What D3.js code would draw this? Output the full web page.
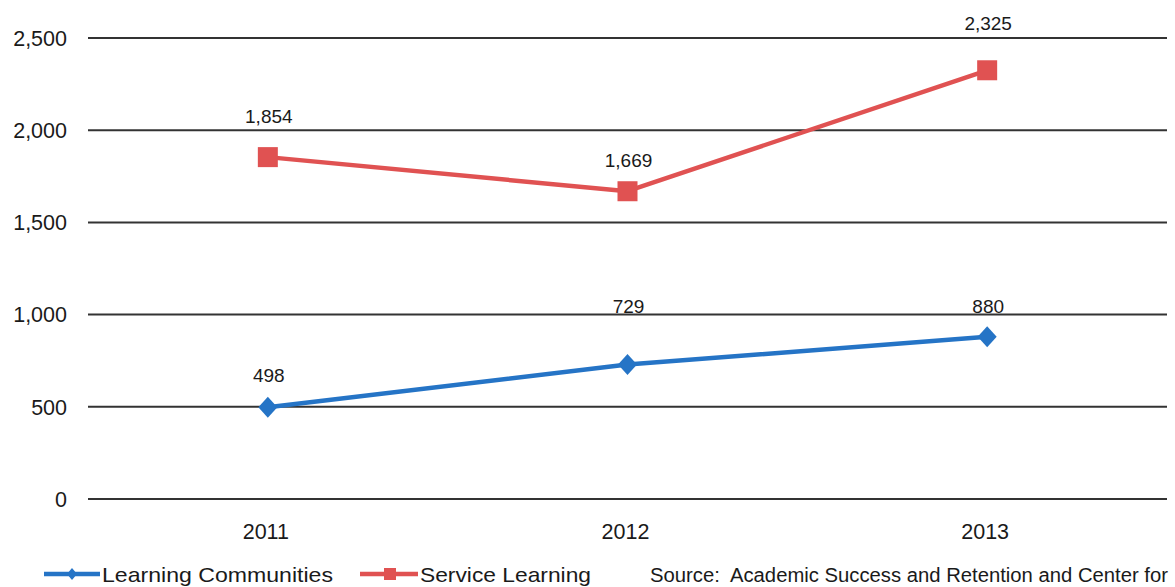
<!DOCTYPE html>
<html><head><meta charset="utf-8">
<script src="https://cdn.jsdelivr.net/npm/d3@7"></script>
<style>
html,body{margin:0;padding:0;background:#fff;}
svg{display:block;font-family:"Liberation Sans",Arial,sans-serif;}
</style></head><body>
<svg id="c" width="1175" height="587"></svg>
<script>
const years = ["2011","2012","2013"];
const learningCommunities = [498, 729, 880];
const serviceLearning = [1854, 1669, 2325];
const yTicks = [0, 500, 1000, 1500, 2000, 2500];
const seriesNames = ["Learning Communities", "Service Learning"];
const sourceText = "Source:  Academic Success and Retention and Center for";
// label vertical offsets (style), px above point
const lcLabelOffsets = [25, 52, 24];
const slLabelOffsets = [34, 24, 40];

const svg = d3.select("#c");
const x = d3.scalePoint().domain(years).range([88, 1167]).padding(0.5);
const y = d3.scaleLinear().domain([0, 2500]).range([499, 38]);
const fmt = d3.format(",");

// gridlines
svg.append("g").selectAll("line").data(yTicks).join("line")
  .attr("x1", 88).attr("x2", 1167)
  .attr("y1", d => y(d)).attr("y2", d => y(d))
  .attr("stroke", "#333").attr("stroke-width", 2);

// y labels
svg.append("g").selectAll("text").data(yTicks).join("text")
  .attr("x", 67).attr("y", d => y(d)).attr("dy", "0.36em")
  .attr("text-anchor", "end").attr("font-size", 21.5).attr("fill", "#1a1a1a")
  .text(d => fmt(d));

// x labels
svg.append("g").selectAll("text").data(years).join("text")
  .attr("x", d => x(d) - 2).attr("y", 539)
  .attr("text-anchor", "middle").attr("font-size", 21.5).attr("fill", "#1a1a1a")
  .text(d => d);

const blue = "#2574c6", red = "#e05252";
const line = d3.line().x(d => x(d.year)).y(d => y(d.v));

function series(vals, color, marker, offsets) {
  const data = vals.map((v, i) => ({year: years[i], v}));
  svg.append("path").datum(data).attr("d", line)
    .attr("fill", "none").attr("stroke", color).attr("stroke-width", 4.5)
    .attr("stroke-linejoin", "round");
  const g = svg.append("g");
  if (marker === "diamond") {
    g.selectAll("path").data(data).join("path")
      .attr("d", d => `M${x(d.year)},${y(d.v)-10.5} L${x(d.year)+9.5},${y(d.v)} L${x(d.year)},${y(d.v)+10.5} L${x(d.year)-9.5},${y(d.v)} Z`)
      .attr("fill", color);
  } else {
    g.selectAll("rect").data(data).join("rect")
      .attr("x", d => x(d.year) - 10).attr("y", d => y(d.v) - 10)
      .attr("width", 20).attr("height", 20).attr("fill", color);
  }
  svg.append("g").selectAll("text").data(data).join("text")
    .attr("x", d => x(d.year) + 1).attr("y", (d, i) => y(d.v) - offsets[i])
    .attr("text-anchor", "middle").attr("font-size", 19).attr("fill", "#1a1a1a")
    .text(d => fmt(d.v));
}
series(learningCommunities, blue, "diamond", lcLabelOffsets);
series(serviceLearning, red, "square", slLabelOffsets);

// legend
const ly = 574;
const lg = svg.append("g");
lg.append("line").attr("x1", 44).attr("x2", 100).attr("y1", ly).attr("y2", ly)
  .attr("stroke", blue).attr("stroke-width", 4.5);
lg.append("path").attr("d", `M72,${ly-6} L77,${ly} L72,${ly+6} L67,${ly} Z`).attr("fill", blue);
lg.append("text").attr("x", 102).attr("y", ly + 8).attr("font-size", 21).attr("fill", "#1a1a1a")
  .attr("textLength", 231).attr("lengthAdjust", "spacingAndGlyphs").text(seriesNames[0]);
lg.append("line").attr("x1", 360).attr("x2", 418).attr("y1", ly).attr("y2", ly)
  .attr("stroke", red).attr("stroke-width", 4.5);
lg.append("rect").attr("x", 384).attr("y", ly - 6).attr("width", 12).attr("height", 12).attr("fill", red);
lg.append("text").attr("x", 420).attr("y", ly + 8).attr("font-size", 21).attr("fill", "#1a1a1a")
  .attr("textLength", 171).attr("lengthAdjust", "spacingAndGlyphs").text(seriesNames[1]);
lg.append("text").attr("x", 650).attr("y", ly + 8).attr("font-size", 19.5).attr("fill", "#1a1a1a")
  .attr("xml:space", "preserve").style("white-space", "pre")
  .attr("textLength", 518).attr("lengthAdjust", "spacingAndGlyphs").text(sourceText);
</script>
</body></html>
